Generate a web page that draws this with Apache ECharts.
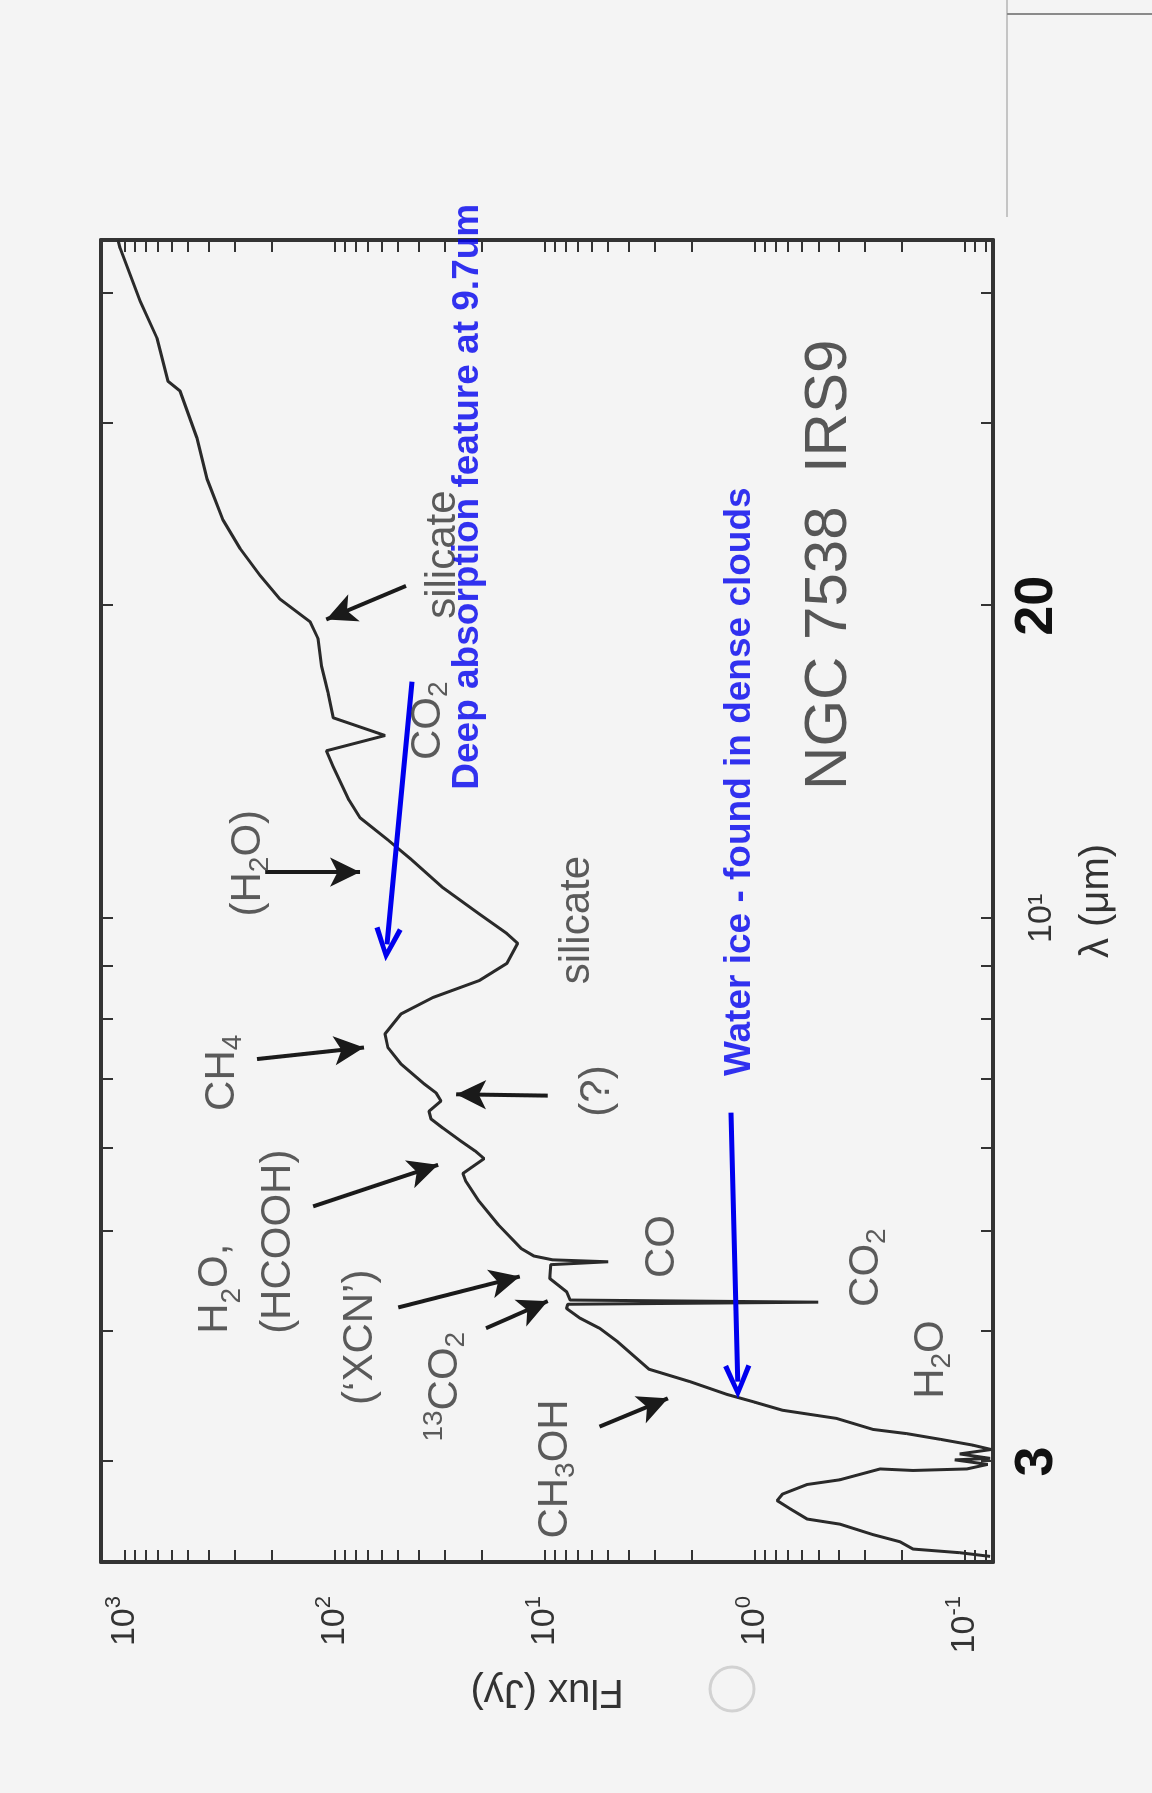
<!DOCTYPE html>
<html>
<head>
<meta charset="utf-8">
<script src="https://cdn.jsdelivr.net/npm/echarts@6/dist/echarts.min.js"></script>
<style>
html,body{margin:0;padding:0;width:1152px;height:1793px;overflow:hidden;background:#f4f4f4;}
#chart{position:absolute;left:0;top:0;width:1793px;height:1152px;transform-origin:0 0;transform:translate(0,1793px) rotate(-90deg);}
</style>
</head>
<body>
<div id="chart"></div>
<script>
// ---- spectrum of NGC 7538 IRS9, in path order ----
const wavelength = [2.43,2.45,2.47,2.51,2.55,2.61,2.64,2.70,2.75,2.79,2.85,2.88,2.95,2.94,2.95,2.98,3.01,3.02,3.05,3.08,3.11,3.15,3.19,3.22,3.30,3.36,3.42,3.48,3.58,3.68,3.91,4.03,4.12,4.21,4.25,4.27,4.29,4.37,4.50,4.64,4.67,4.69,4.73,4.81,5.07,5.34,5.58,5.68,5.87,5.97,6.10,6.28,6.41,6.52,6.67,6.79,6.93,7.24,7.51,7.74,8.09,8.39,8.71,9.05,9.46,9.67,10.1,10.7,11.4,11.9,12.5,13.0,14.0,14.5,15.0,15.6,16.5,17.5,18.6,19.3,20.3,21.4,22.7,24.2,26.5,29.0,32.2,32.9,36.2,39.3,44.2,45.0];
const fluxJy = [0.076,0.106,0.177,0.204,0.274,0.394,0.565,0.68,0.785,0.74,0.565,0.394,0.254,0.177,0.098,0.078,0.112,0.076,0.106,0.075,0.092,0.131,0.189,0.274,0.41,0.74,1.0,1.36,2.04,3.2,4.5,5.5,6.8,7.9,7.8,0.50,7.6,7.9,9.5,9.4,5.0,9.2,11.3,13.0,16.7,20.6,23.8,24.6,19.5,21.5,25.1,30.6,34.9,35.7,31.3,33.0,37.7,48.5,56,57.8,48.5,34.2,20.6,15.2,13.5,15.2,20.6,30.6,43.5,56,76,85.8,102,110,57.8,102,108,116,120.5,131.5,183,228,283,342,407,454,547,624,704,848,1056,1080];

// ---- axes ----
const lambdaTicks = [3,4,5,6,7,8,9,10,20,30,40];
const lambdaLabels = [3,10,20];
const fluxTicks = [0.08,0.09,0.1,0.2,0.3,0.4,0.5,0.6,0.7,0.8,0.9,1,2,3,4,5,6,7,8,9,10,20,30,40,50,60,70,80,90,100,200,300,400,500,600,700,800,900,1000];
const fluxLabels = [0.1,1,10,100,1000];

// ---- annotations (label text at [wavelength, flux]) ----
const labelTexts = [
  {t:'{n|CO}{sub|2}', at:[15.5,36.1]},
  {t:'{n|silicate}', at:[22.4,30.6]},
  {t:'{n|(H}{sub|2}{n|O)}', at:[11.3,257]},
  {t:'{n|CH}{sub|4}', at:[7.10,345]},
  {t:'{n|(?)}', at:[6.82,5.65]},
  {t:'{g|H}{gs|2}{g|O,}\n{g|(HCOOH)}', at:[3.98,264], align:'left'},
  {t:'{n|CO}', at:[4.83,2.77]},
  {t:'{n|CO}{sub|2}', at:[4.61,0.296]},
  {t:'{n|H}{sub|2}{n|O}', at:[3.76,0.145]},
  {t:'{n|(\u2018XCN\u2019)}', at:[3.95,76]},
  {t:'{sup|13}{n|CO}{sub|2}', at:[3.54,29.9]},
  {t:'{n|CH}{sub|3}{n|OH}', at:[2.95,8.96]},
  {t:'{n|silicate}', at:[9.96,7.04]},
  {t:'{big|NGC 7538  IRS9}', at:[21.9,0.444]},
  {t:'{blue|Deep absorption feature at 9.7um}', at:[13.3,23.3], align:'left'},
  {t:'{blue|Water ice - found in dense clouds}', at:[7.05,1.18], align:'left'}
];
const blackArrows = [
  [[20.9,45.9],[19.4,110]],
  [[11.08,215],[11.08,76]],
  [[7.32,235],[7.51,72.8]],
  [[6.75,9.7],[6.77,26.5]],
  [[5.28,127],[5.79,32.3]],
  [[4.22,50],[4.52,13.2]],
  [[4.03,19.1],[4.28,9.7]],
  [[3.24,5.5],[3.45,2.6]]
];
const blueArrows = [
  [[16.9,43],[9.44,56.5]],
  [[6.50,1.30],[3.58,1.21]]
];

const FONT = "'Liberation Sans', Arial, Helvetica, sans-serif";
const INK = '#333333';
const BLUE = '#0000ee';

const RICH = {
  n:   {fontSize:42, lineHeight:50, fontFamily:FONT, color:INK},
  sub: {fontSize:28, lineHeight:28, verticalAlign:'bottom', fontFamily:FONT, color:INK},
  sup: {fontSize:28, lineHeight:28, verticalAlign:'top', fontFamily:FONT, color:INK},
  g:   {fontSize:42, lineHeight:63, fontFamily:FONT, color:INK},
  gs:  {fontSize:28, lineHeight:41, verticalAlign:'bottom', fontFamily:FONT, color:INK},
  big: {fontSize:60, lineHeight:70, fontFamily:FONT, color:'#2e2e2e'},
  blue:{fontSize:37, lineHeight:44, fontWeight:'bold', fontFamily:FONT, color:BLUE}
};

const spectrum = wavelength.map((w,i) => [w, fluxJy[i]]);

function fmtFlux(v){
  const e = Math.round(Math.log10(v));
  return '{b|10}{s|' + e + '}';
}
function fmtLambda(v){
  if (Math.abs(v-10) < 1e-6) return '{t|10\u00b9}';
  return '{h|' + Math.round(v) + '}';
}

const lineAxis = {show:true, onZero:false, lineStyle:{color:INK, width:4}};
const tickStyle = {color:INK, width:2};

const chart = echarts.init(document.getElementById('chart'));
chart.setOption({
  animation:false,
  backgroundColor:'#f4f4f4',
  grid:{left:231, right:240, top:101, bottom:159},
  xAxis:[
    {type:'log', logBase:10, min:2.4, max:45, position:'bottom',
     axisLine:lineAxis,
     axisTick:{show:true, inside:true, length:12, customValues:lambdaTicks, lineStyle:tickStyle},
     minorTick:{show:false}, splitLine:{show:false},
     axisLabel:{show:true, customValues:lambdaLabels, margin:14, formatter:fmtLambda,
       rich:{
         h:{fontSize:54, lineHeight:60, fontWeight:'bold', fontFamily:FONT, color:'#111'},
         t:{fontSize:34, lineHeight:40, padding:[30,0,0,0], fontFamily:FONT, color:INK}
       }},
     name:'\u03bb (\u03bcm)', nameLocation:'middle', nameGap:84,
     nameTextStyle:{fontSize:40, fontFamily:FONT, color:INK}
    },
    {type:'log', logBase:10, min:2.4, max:45, position:'top',
     axisLine:lineAxis,
     axisTick:{show:true, inside:true, length:12, customValues:lambdaTicks, lineStyle:tickStyle},
     minorTick:{show:false}, splitLine:{show:false}, axisLabel:{show:false}
    }
  ],
  yAxis:[
    {type:'log', logBase:10, min:0.0736, max:1301, position:'left',
     axisLine:lineAxis,
     axisTick:{show:true, inside:true, length:12, customValues:fluxTicks, lineStyle:tickStyle},
     minorTick:{show:false}, splitLine:{show:false},
     axisLabel:{show:true, customValues:fluxLabels, margin:34, formatter:fmtFlux,
       rich:{
         b:{fontSize:34, lineHeight:44, fontFamily:FONT, color:INK},
         s:{fontSize:22, lineHeight:22, verticalAlign:'top', fontFamily:FONT, color:INK}
       }},
     name:'Flux (Jy)', nameLocation:'middle', nameRotate:90, nameGap:109,
     nameTextStyle:{fontSize:40, fontFamily:FONT, color:INK}
    },
    {type:'log', logBase:10, min:0.0736, max:1301, position:'right',
     axisLine:lineAxis,
     axisTick:{show:true, inside:true, length:12, customValues:fluxTicks, lineStyle:tickStyle},
     minorTick:{show:false}, splitLine:{show:false}, axisLabel:{show:false}
    }
  ],
  graphic:[
    // scan artefacts: page edge lines and punch-hole ring
    {type:'line', silent:true, shape:{x1:1576, y1:1007, x2:1793, y2:1007}, style:{stroke:'#c4c4c4', lineWidth:2}},
    {type:'line', silent:true, shape:{x1:1779, y1:1007, x2:1779, y2:1152}, style:{stroke:'#8a8a8a', lineWidth:2}},
    {type:'circle', silent:true, shape:{cx:104, cy:732, r:22}, style:{fill:'none', stroke:'#d2d2d2', lineWidth:3}}
  ],
  series:[
    {type:'line', name:'NGC 7538 IRS9', xAxisIndex:0, yAxisIndex:0,
     data:spectrum, showSymbol:false, symbol:'none', smooth:false,
     lineStyle:{color:'#2a2a2a', width:3}, silent:true, z:3,
     markLine:{
       silent:true, animation:false, symbol:['none','arrow'], symbolSize:[22,30],
       label:{show:false}, emphasis:{disabled:true},
       lineStyle:{color:'#1a1a1a', width:4, type:'solid'},
       data: blackArrows.map(a => [{coord:a[0]},{coord:a[1]}])
     }
    },
    {type:'line', name:'notes', xAxisIndex:0, yAxisIndex:0, data:[], silent:true, z:6,
     markLine:{
       silent:true, animation:false,
       symbol:['none','path://M0,30 L15,0 L30,30 L25,32 L15,11 L5,32 Z'], symbolSize:[28,34],
       label:{show:false}, emphasis:{disabled:true},
       lineStyle:{color:BLUE, width:5, type:'solid'},
       itemStyle:{color:BLUE},
       data: blueArrows.map(a => [{coord:a[0]},{coord:a[1]}])
     }
    },
    {type:'scatter', name:'labels', xAxisIndex:0, yAxisIndex:0, symbolSize:1, silent:true, z:7,
     itemStyle:{color:'rgba(0,0,0,0)'},
     data: labelTexts.map(a => ({
       value:a.at,
       label:{show:true, position:'inside', formatter:a.t, align:a.align || 'center',
              verticalAlign:'middle', rich:RICH}
     }))
    }
  ]
});
</script>
</body>
</html>
